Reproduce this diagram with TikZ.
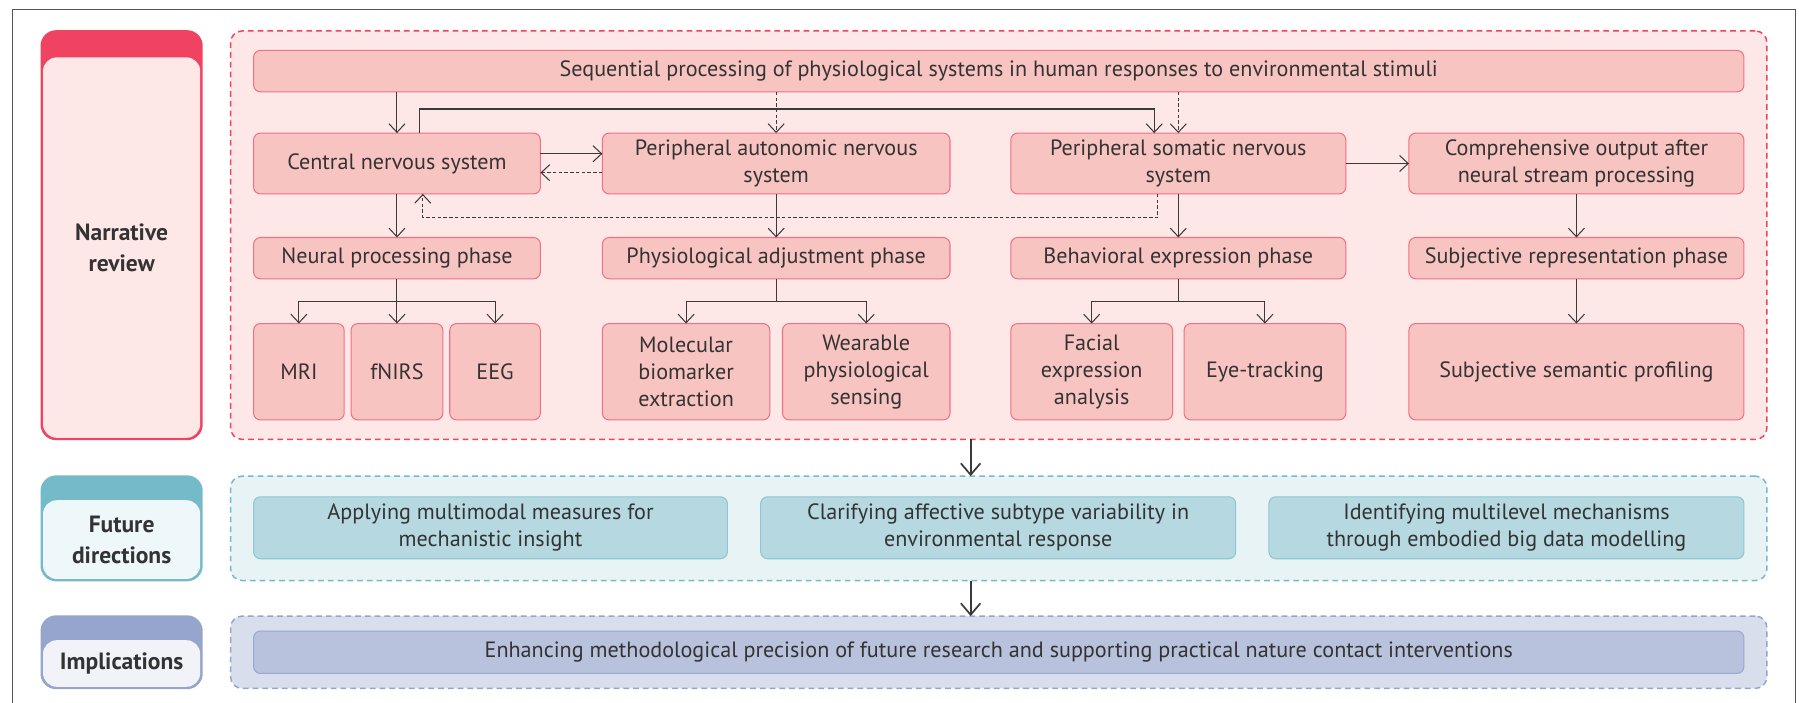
\documentclass[tikz,border=0pt]{standalone}
\usepackage{fontspec}
\setmainfont{PT Sans}
\usetikzlibrary{arrows.meta,calc}
\definecolor{txt}{HTML}{333333}
\definecolor{framec}{HTML}{555555}
\definecolor{arrc}{HTML}{3A3A3A}
\definecolor{rcap}{HTML}{EF4361}
\definecolor{rbg}{HTML}{FDE8E7}
\definecolor{rfill}{HTML}{F8C4C1}
\definecolor{rline}{HTML}{F07084}
\definecolor{tcap}{HTML}{74BAC9}
\definecolor{tbg}{HTML}{E7F3F5}
\definecolor{tfill}{HTML}{B6D8E1}
\definecolor{tline}{HTML}{8EC6D3}
\definecolor{tin}{HTML}{EEF8FA}
\definecolor{pcap}{HTML}{95A5CB}
\definecolor{pbg}{HTML}{D9DEEC}
\definecolor{pfill}{HTML}{B8C2DC}
\definecolor{pline}{HTML}{9AA7CF}
\definecolor{pin}{HTML}{F1F3F9}
\newcommand\bnode[7]{\node[#6, minimum width={#4-#2}, minimum height={#5-#3}] (#1) at ({(#2+#4)/2},{(#3+#5)/2}) {#7};}
\begin{document}
\begin{tikzpicture}[x=1pt,y=-1pt,
  every node/.style={font=\fontsize{19.3}{23.5}\selectfont, text=txt, inner sep=0pt, outer sep=0pt},
  boxb/.style={rounded corners=6, line width=0.9, align=center},
  rbox/.style={boxb, draw=rline, fill=rfill},
  tbox/.style={boxb, draw=tline, fill=tfill},
  pbox/.style={boxb, draw=pline, fill=pfill},
  contb/.style={rounded corners=10, line width=1.3, dash pattern=on 5pt off 3.5pt},
  rcont/.style={contb, draw=rcap, fill=rbg},
  tcont/.style={contb, draw=tcap, fill=tbg},
  pcont/.style={contb, draw=pcap, fill=pbg},
  capbox/.style={fill=#1, draw=#1, rounded corners=13, line width=1.4},
  labin/.style={fill=#1, rounded corners=12, align=center, font=\bfseries\fontsize{20.5}{27}\selectfont},
  arr/.style={draw=arrc, line width=0.9, -{Straight Barb[length=7.5pt,width=14pt]}},
  darr/.style={arr, dash pattern=on 3pt off 2pt},
  line/.style={draw=arrc, line width=0.9},
  bigarr/.style={draw=arrc, line width=1.5, -{Straight Barb[length=10pt,width=17pt]}}
]
\useasboundingbox (0,0) rectangle (1568,612);
% outer frame
\draw[framec, line width=1] (11,640) -- (11,8) -- (1565,8) -- (1565,640);

% left labels
\bnode{nlab}{36}{27}{176}{383}{capbox=rcap}{}
\bnode{nlabin}{37.5}{50}{174.5}{381.6}{labin=rbg}{Narrative\\review}
\bnode{flab}{36}{415}{176}{506}{capbox=tcap}{}
\bnode{flabin}{37.5}{436}{174.5}{504.6}{labin=tin}{Future\\directions}
\bnode{ilab}{36}{537}{176}{600}{capbox=pcap}{}
\bnode{ilabin}{37.5}{558}{174.5}{598.6}{labin=pin}{Implications}

% containers
\bnode{redc}{201}{27}{1540}{383}{rcont}{}
\bnode{futc}{201}{415}{1540}{506}{tcont}{}
\bnode{impc}{201}{537}{1540}{600}{pcont}{}

% red section boxes
\bnode{top}{221}{44}{1520}{80}{rbox}{Sequential processing of physiological systems in human responses to environmental stimuli}
\bnode{cns}{221}{116}{471}{169}{rbox}{Central nervous system}
\bnode{pans}{525}{116}{828}{169}{rbox}{Peripheral autonomic nervous\\system}
\bnode{psns}{881}{116}{1173}{169}{rbox}{Peripheral somatic nervous\\system}
\bnode{comp}{1228}{116}{1520}{169}{rbox}{Comprehensive output after\\neural stream processing}
\bnode{neur}{221}{207}{471}{243}{rbox}{Neural processing phase}
\bnode{phys}{525}{207}{828}{243}{rbox}{Physiological adjustment phase}
\bnode{beh}{881}{207}{1173}{243}{rbox}{Behavioral expression phase}
\bnode{subj}{1228}{207}{1520}{243}{rbox}{Subjective representation phase}
\bnode{mri}{221}{282}{300}{366}{rbox}{MRI}
\bnode{fnirs}{306}{282}{386}{366}{rbox}{fNIRS}
\bnode{eeg}{392}{282}{471}{366}{rbox}{EEG}
\bnode{mol}{525}{282}{671}{366}{rbox}{Molecular\\biomarker\\extraction}
\bnode{wear}{682}{282}{828}{366}{rbox}{Wearable\\physiological\\sensing}
\bnode{fac}{881}{282}{1022}{366}{rbox}{Facial\\expression\\analysis}
\bnode{eye}{1032}{282}{1173}{366}{rbox}{Eye-tracking}
\bnode{prof}{1228}{282}{1520}{366}{rbox}{Subjective semantic profiling}

% future boxes
\bnode{f1}{221}{433}{634}{487}{tbox}{Applying multimodal measures for\\mechanistic insight}
\bnode{f2}{663}{433}{1077}{487}{tbox}{Clarifying affective subtype variability in\\environmental response}
\bnode{f3}{1106}{433}{1520}{487}{tbox}{Identifying multilevel mechanisms\\through embodied big data modelling}

% implications box
\bnode{i1}{221}{550}{1520}{587}{pbox}{Enhancing methodological precision of future research and supporting practical nature contact interventions}

% connectors in red section
\draw[arr] (top.south -| cns.north) -- (cns.north);
\draw[darr] (top.south -| pans.north) -- (pans.north);
\draw[darr] (top.south -| psns.north) -- (psns.north);
\draw[arr] ([xshift=20pt]cns.north) |- ([xshift=-21pt,yshift=21pt]psns.north) -- ([xshift=-21pt]psns.north);
\draw[arr] ([yshift=8.5pt]cns.east) -- ([yshift=8.5pt]pans.west);
\draw[darr] ([yshift=-8pt]pans.west) -- ([yshift=-8pt]cns.east);
\draw[arr] (psns.east) -- (comp.west);
\draw[darr] ([xshift=-18pt]psns.south) -- ([xshift=-18pt,yshift=-20.5pt]psns.south) -| ([xshift=22.5pt]cns.south);
\draw[arr] (cns.south) -- (neur.north);
\draw[arr] (pans.south) -- (phys.north);
\draw[arr] (psns.south) -- (beh.north);
\draw[arr] (comp.south) -- (subj.north);

\coordinate (nb) at ([yshift=-20pt]neur.south);
\draw[line] (neur.south) -- (nb);
\draw[arr] (nb) -| (mri.north);
\draw[arr] (nb) -| (eeg.north);
\draw[arr] (neur.south) -- (fnirs.north);

\coordinate (pb) at ([yshift=-20pt]phys.south);
\draw[line] (phys.south) -- (pb);
\draw[arr] (pb) -| (mol.north);
\draw[arr] (pb) -| (wear.north);

\coordinate (bb) at ([yshift=-20pt]beh.south);
\draw[line] (beh.south) -- (bb);
\draw[arr] (bb) -| (fac.north);
\draw[arr] (bb) -| (eye.north);

\draw[arr] (subj.south) -- (prof.north);

% section arrows
\draw[bigarr] ([xshift=-24.5pt]redc.south) -- ([xshift=-24.5pt]futc.north);
\draw[bigarr] ([xshift=-24.5pt]futc.south) -- ([xshift=-24.5pt]impc.north);
\end{tikzpicture}
\end{document}
